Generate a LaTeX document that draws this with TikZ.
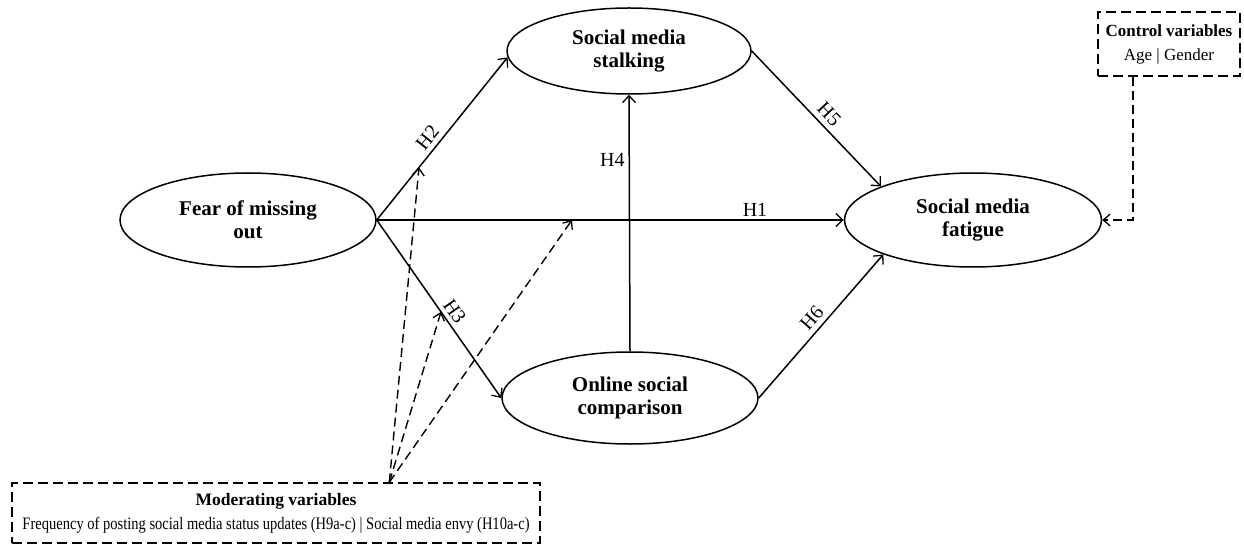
\documentclass[tikz,border=0pt]{standalone}
\usepackage{fontspec}
\usepackage{graphicx}
\setmainfont{Liberation Serif}
\usetikzlibrary{shapes.geometric,arrows.meta,calc}
\begin{document}
\begin{tikzpicture}[x=1pt,y=-1pt,
  var/.style={ellipse,draw,line width=1.5pt,inner sep=0pt,align=center,
    font=\fontsize{21}{23}\selectfont\bfseries},
  arr/.style={line width=1.5pt,-{Straight Barb[length=7pt,width=13pt,line width=1.3pt]}},
  darr/.style={line width=1.4pt,dash pattern=on 9pt off 5pt,
    -{Straight Barb[length=7pt,width=12pt,line width=1.3pt]}},
  hlab/.style={font=\fontsize{20}{22}\selectfont,inner sep=5pt},
  dbox/.style={draw,line width=1.4pt,dash pattern=on 10pt off 5pt,inner sep=0pt,align=center}
]
\useasboundingbox (0,0) rectangle (1244,545);

\node[var,minimum width=256pt,minimum height=94pt] (fomo) at (248,220) {Fear of missing\\out};
\node[var,minimum width=244pt,minimum height=86pt] (stalk) at (629,51) {Social media\\stalking};
\node[var,minimum width=256pt,minimum height=92pt] (comp) at (630,398) {Online social\\comparison};
\node[var,minimum width=257pt,minimum height=94pt] (fat) at (973,220) {Social media\\fatigue};

\node[dbox,minimum width=142pt,minimum height=64pt,font=\fontsize{17}{24}\selectfont] (ctrl) at (1169,44)
  {\textbf{Control variables}\\Age | Gender};
\node[dbox,minimum width=528pt,minimum height=60pt,font=\fontsize{17.5}{24}\selectfont] (mod) at (276,513)
  {\textbf{Moderating variables}\\\scalebox{0.83}[1]{Frequency of posting social media status updates (H9a-c) | Social media envy (H10a-c)}};

\draw[arr] (fomo.east) -- coordinate[pos=0.418] (m1) node[pos=0.81,above,hlab,inner sep=3pt] {H1} (fat.west);
\draw[arr] (fomo.east) -- coordinate[pos=0.323] (m2) node[pos=0.46,sloped,above,hlab] {H2} (stalk.183);
\draw[arr] (fomo.east) -- coordinate[pos=0.516] (m3) node[pos=0.55,sloped,above,hlab,inner sep=4pt] {H3} (comp.west);
\draw[arr] (comp.north) -- node[pos=0.744,left,hlab,inner sep=4pt] {H4} (stalk.south);
\draw[arr] (stalk.east) -- node[pos=0.53,sloped,above,hlab] {H5} (fat.160);
\draw[arr] (comp.east) -- node[pos=0.5,sloped,above,hlab] {H6} (fat.201);

\coordinate (apex) at ($(mod.north west)!0.714!(mod.north east)$);
\draw[darr] (apex) -- (m2);
\draw[darr] (apex) -- (m3);
\draw[darr] (apex) -- (m1);

\draw[darr] ($(ctrl.south west)!0.25!(ctrl.south east)$) |- (fat.east);
\end{tikzpicture}
\end{document}
